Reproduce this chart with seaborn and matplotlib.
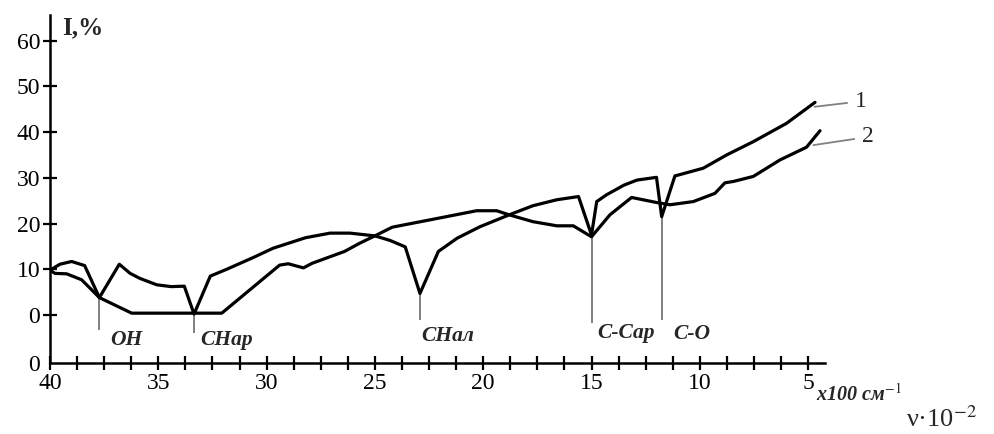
import numpy as np
import pandas as pd
import seaborn as sns
import matplotlib.pyplot as plt

# wavenumber (x100 cm-1) and intensity (%)
nu_1 = [40.0, 39.54, 39.0, 38.4, 37.72, 36.8, 36.3, 35.85, 35.07, 34.4, 33.8, 33.35,
        32.6, 31.84, 30.6, 29.7, 28.2, 27.07, 26.15, 25.0, 24.3, 23.6, 22.92, 22.07,
        21.2, 20.15, 18.8, 17.7, 16.6, 15.6, 15.0, 14.76, 14.3, 13.5, 12.9, 12.0,
        11.76, 11.15, 9.84, 8.76, 7.53, 6.0, 4.68]
int_1 = [9.8, 11.1, 11.7, 10.8, 3.8, 11.1, 9.1, 8.0, 6.6, 6.2, 6.3, 0.2,
         8.5, 10.0, 12.6, 14.6, 16.9, 17.9, 17.9, 17.3, 16.3, 14.9, 4.7, 13.9,
         16.8, 19.3, 21.9, 23.9, 25.2, 25.9, 17.5, 24.8, 26.3, 28.4, 29.5, 30.1,
         21.5, 30.4, 32.1, 35.0, 37.9, 41.9, 46.5]

nu_2 = [40.0, 39.77, 39.23, 38.54, 37.72, 37.15, 36.23, 32.07, 29.4, 29.0, 28.3,
        27.9, 26.4, 25.7, 25.0, 24.2, 22.46, 20.3, 19.38, 18.8, 17.7, 16.6, 15.84,
        15.0, 14.15, 13.15, 12.0, 11.38, 10.3, 9.3, 8.84, 8.45, 7.53, 6.3, 5.07, 4.45]
int_2 = [9.8, 9.1, 9.0, 7.7, 3.8, 2.5, 0.4, 0.4, 10.9, 11.2, 10.3,
         11.3, 13.9, 15.7, 17.3, 19.2, 20.8, 22.8, 22.8, 21.9, 20.4, 19.5, 19.5,
         17.1, 21.9, 25.7, 24.6, 24.1, 24.8, 26.6, 28.9, 29.2, 30.3, 33.9, 36.7, 40.3]

# absorption bands: position, dip value, lower end of marker, label
band_nu = [37.72, 33.35, 22.92, 15.0, 11.74]
band_top = [3.8, 0.2, 4.7, 17.2, 21.5]
band_bottom = [-3.3, -3.9, -1.2, -1.8, -1.2]
band_labels = ['OH', 'СНар', 'СНал', 'С-Сар', 'С-О']

x_labels = ['40', '35', '30', '25', '20', '15', '10', '5']
y_labels = ['0', '0', '10', '20', '30', '40', '50', '60']

sns.set_style('ticks')
plt.rcParams['font.family'] = ['Liberation Serif', 'DejaVu Serif']
plt.rcParams['mathtext.fontset'] = 'stix'

fig = plt.figure(figsize=(9.95, 4.34), dpi=100)
ax = fig.add_axes([50 / 995, 71 / 434, 775 / 995, 348 / 434])

df1 = pd.DataFrame({'nu': nu_1, 'I': int_1})
df2 = pd.DataFrame({'nu': nu_2, 'I': int_2})
sns.lineplot(data=df1, x='nu', y='I', sort=False, estimator=None, color='black', lw=2.3, ax=ax)
sns.lineplot(data=df2, x='nu', y='I', sort=False, estimator=None, color='black', lw=2.3, ax=ax)

# band markers and names
ax.vlines(band_nu, band_bottom, band_top, color='#808080', lw=1.4, zorder=1)
offs = [11, 6, 1, 6, 11]
ys = [-5.5, -5.5, -4.7, -4.0, -4.2]
for x, lab, o, yy in zip(band_nu, band_labels, offs, ys):
    ax.annotate(lab, xy=(x, yy), xytext=(o * 0.72, 0), textcoords='offset points',
                ha='left', va='center', fontsize=15.5, fontstyle='italic', fontweight='bold')

# curve numbers
ax.annotate('1', xy=(nu_1[-1] + 0.08, int_1[-1] - 1.0), xytext=(34, 4), textcoords='offset points',
            ha='center', va='center', fontsize=17, annotation_clip=False,
            arrowprops=dict(arrowstyle='-', color='#808080', lw=1.3, shrinkA=3, shrinkB=1))
ax.annotate('2', xy=(nu_2[-2] - 0.25, int_2[-2] + 0.4), xytext=(40, 6), textcoords='offset points',
            ha='center', va='center', fontsize=17, annotation_clip=False,
            arrowprops=dict(arrowstyle='-', color='#808080', lw=1.3, shrinkA=3, shrinkB=1))

ax.set_xlim(40, 4.22)
ax.set_ylim(-10.5, 65.6)
xt = np.arange(5, 40.1, 1.25)
ax.set_xticks(xt)
ax.set_xticklabels([x_labels[int((40 - t) / 5)] if t % 5 == 0 else '' for t in xt])
ax.set_yticks([-10.5, 0, 10, 20, 30, 40, 50, 60])
ax.set_yticklabels(y_labels)
ax.yaxis.get_major_ticks()[0].tick1line.set_visible(False)
ax.tick_params(direction='inout', length=10, width=1.6, labelsize=17, colors='black')
ax.tick_params(axis='x', pad=2)
ax.tick_params(axis='y', pad=2)
ax.set_xlabel('')
ax.set_ylabel('')
sns.despine(ax=ax)
for s in ['left', 'bottom']:
    ax.spines[s].set_linewidth(1.8)
    ax.spines[s].set_color('black')

fig.text(62 / 995, 1 - 28 / 434, 'I,%', fontsize=18, fontweight='bold', va='center')
fig.text(816 / 995, 1 - 401 / 434, 'x100 см$^{-1}$', fontsize=14.5,
         fontstyle='italic', fontweight='bold', va='baseline')
fig.text(906 / 995, 0.005, 'ν·10$^{-2}$', fontsize=19, va='bottom')

fig.savefig('out.png', dpi=100)
